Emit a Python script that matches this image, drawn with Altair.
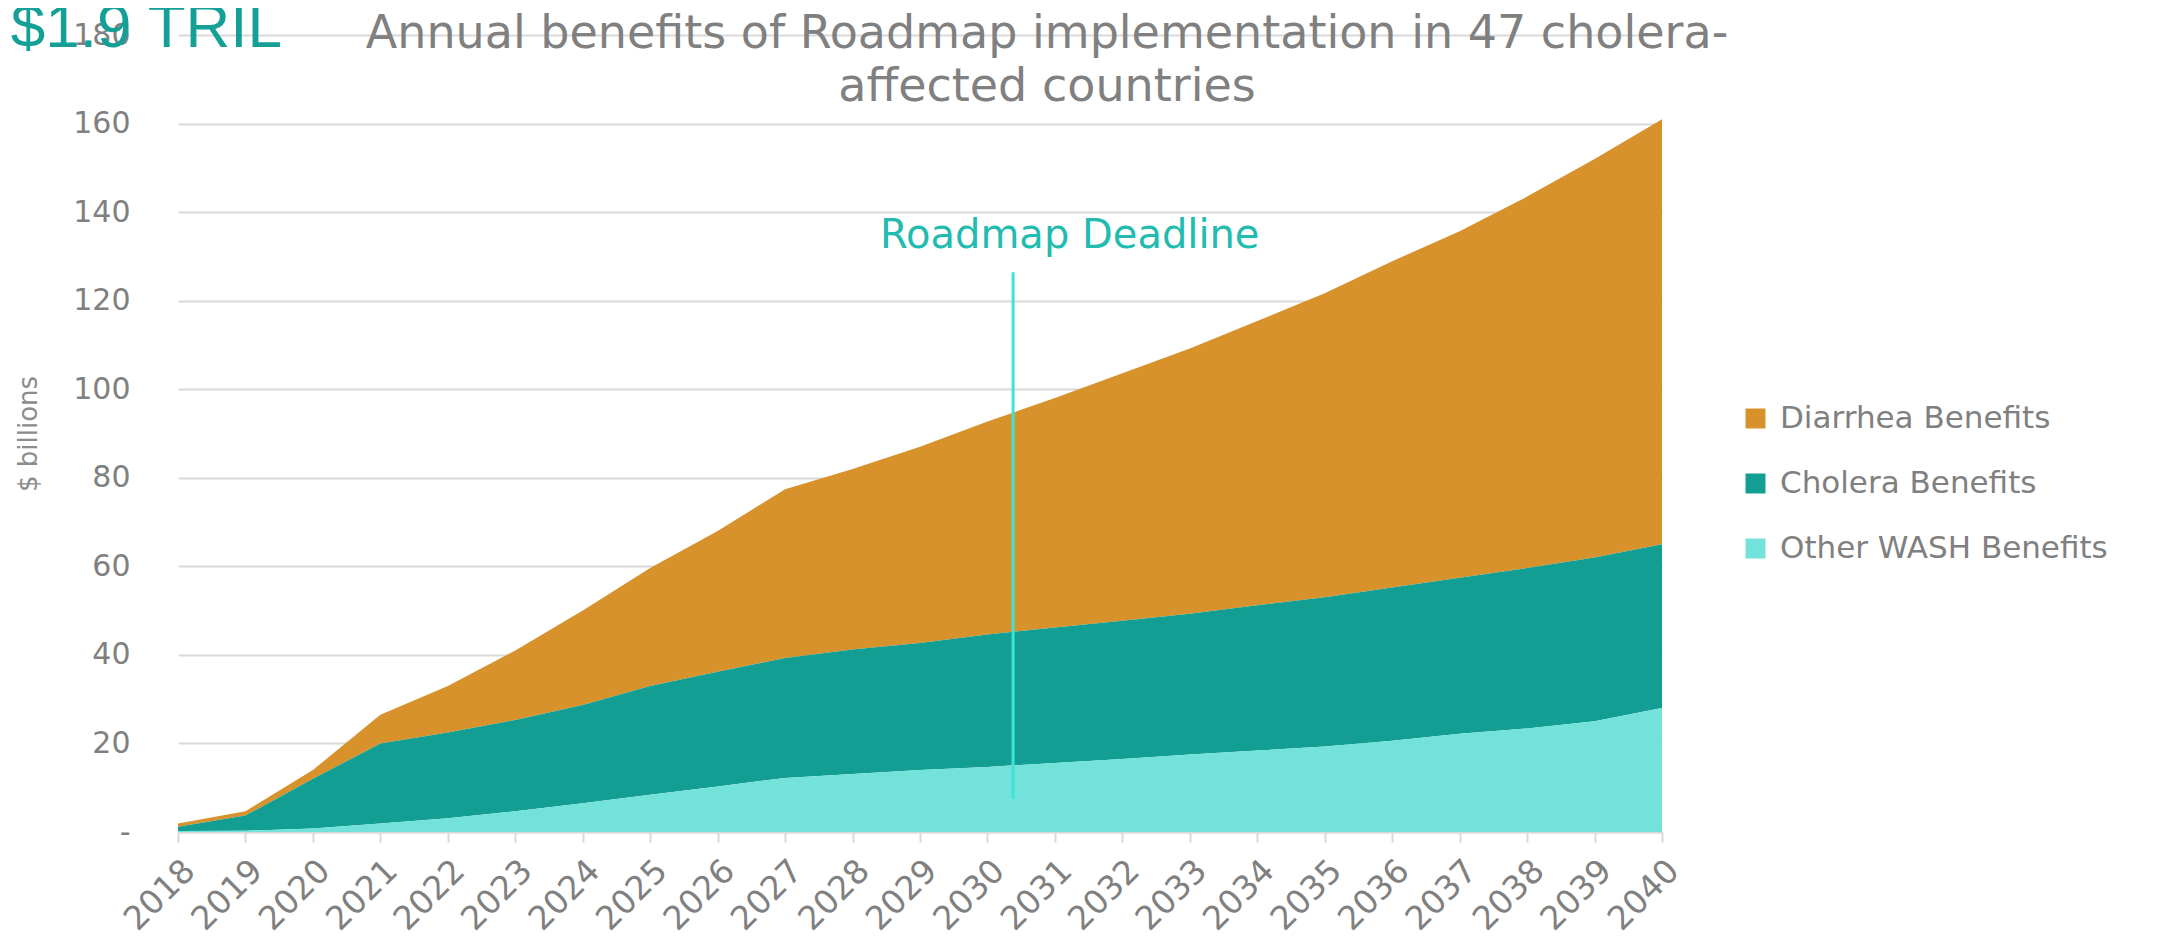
import altair as alt
import pandas as pd

years = list(range(2018, 2041))
other_wash = [0.2, 0.3, 0.8, 1.9, 3.1, 4.7, 6.5, 8.4, 10.3, 12.2, 13.1, 14.0, 14.7,
              15.6, 16.5, 17.5, 18.4, 19.3, 20.6, 22.2, 23.4, 25.0, 28.0]
cholera = [1.0, 3.4, 11.2, 18.1, 19.4, 20.6, 22.2, 24.6, 25.9, 27.1, 28.1, 28.7, 29.9,
           30.6, 31.2, 31.8, 32.8, 33.7, 34.6, 35.2, 36.2, 37.0, 37.0]
diarrhea = [0.7, 1.0, 2.0, 6.5, 10.5, 15.7, 21.3, 26.6, 31.8, 38.1, 40.8, 44.3, 48.1,
            51.8, 55.9, 59.9, 64.2, 68.7, 73.7, 78.3, 83.9, 90.0, 96.0]

series_names = ["Diarrhea Benefits", "Cholera Benefits", " Other WASH Benefits"]
series_colors = ["#D8922C", "#139E94", "#72E2DB"]
series_stack = [2, 1, 0]
series_values = [diarrhea, cholera, other_wash]

y_ticks = [0, 20, 40, 60, 80, 100, 120, 140, 160, 180]

title_lines = ["Annual benefits of Roadmap implementation in 47 cholera-", "affected countries"]
big_label = "$1.9 TRIL"
deadline_label = "Roadmap Deadline"
deadline_year = 2030.38
deadline_y = [7.5, 126.4]
deadline_text_pos = [2031.22, 131.8]

rows = []
for name, vals, order in zip(series_names, series_values, series_stack):
    for yr, v in zip(years, vals):
        rows.append({"year": yr, "series": name, "value": v, "stackorder": order})
df = pd.DataFrame(rows)

W, H = 1484, 797
FONT = "DejaVu Sans"
GRAY = "#808080"
GRID = "#D9D9D9"

areas = alt.Chart(df).mark_area(opacity=1).encode(
    x=alt.X("year:Q",
            scale=alt.Scale(domain=[2018, 2040], nice=False, zero=False),
            axis=alt.Axis(values=years, format="d", title=None, grid=False,
                          labelAngle=-45, labelAlign="right", labelBaseline="top",
                          labelPadding=12, labelFontSize=33, labelColor=GRAY,
                          labelFont=FONT, labelFlush=False, labelOverlap=False,
                          labelBound=False,
                          tickSize=10, tickColor=GRID, tickWidth=2,
                          domainColor=GRID, domainWidth=2)),
    y=alt.Y("value:Q", stack="zero",
            scale=alt.Scale(domain=[0, 180], nice=False),
            axis=alt.Axis(values=y_ticks, title="$ billions", grid=True,
                          gridColor=GRID, gridWidth=2, ticks=False, domain=False,
                          labelExpr="datum.value == 0 ? '-' : datum.label",
                          labelFontSize=30, labelColor=GRAY, labelFont=FONT,
                          labelPadding=48, labelFlush=False,
                          titleFontSize=26, titleColor="#8C8C8C", titleFont=FONT,
                          titleFontWeight="normal", titleX=-150, titleY=H / 2,
                          titleBaseline="middle", titleAngle=-90)),
    color=alt.Color("series:N",
                    scale=alt.Scale(domain=series_names, range=series_colors),
                    legend=alt.Legend(title=None, orient="none", legendX=1562,
                                      legendY=368, symbolType="square",
                                      symbolSize=400, symbolStrokeWidth=0,
                                      labelFontSize=31, labelColor=GRAY,
                                      labelFont=FONT, labelOffset=9,
                                      rowPadding=33, padding=0,
                                      labelLimit=600)),
    order=alt.Order("stackorder:Q", sort="ascending"),
)

rule_df = pd.DataFrame({"x": [deadline_year], "y": [deadline_y[0]], "y2": [deadline_y[1]]})
rule = alt.Chart(rule_df).mark_rule(color="#3DE3D8", strokeWidth=3).encode(
    x="x:Q", y="y:Q", y2="y2:Q")

dl_df = pd.DataFrame({"x": [deadline_text_pos[0]], "y": [deadline_text_pos[1]],
                      "t": [deadline_label]})
dl_text = alt.Chart(dl_df).mark_text(
    color="#22BBB0", fontSize=40, font=FONT, align="center", baseline="alphabetic"
).encode(x="x:Q", y="y:Q", text="t:N")

title1 = alt.Chart(pd.DataFrame({"t": [title_lines[0]]})).mark_text(
    color=GRAY, fontSize=46, font=FONT, align="center", baseline="alphabetic"
).encode(x=alt.value(869), y=alt.value(13), text="t:N")
title2 = alt.Chart(pd.DataFrame({"t": [title_lines[1]]})).mark_text(
    color=GRAY, fontSize=46, font=FONT, align="center", baseline="alphabetic"
).encode(x=alt.value(869), y=alt.value(66), text="t:N")

big = alt.Chart(pd.DataFrame({"t": [big_label]})).mark_text(
    color="#14A096", fontSize=62, font="Liberation Sans",
    align="right", baseline="alphabetic"
).encode(x=alt.value(104), y=alt.value(12), text="t:N")

chart = alt.layer(areas, rule, dl_text, title1, title2, big).properties(
    width=W, height=H,
    autosize=alt.AutoSizeParams(type="none"),
    padding={"left": 170, "top": 27, "right": 490, "bottom": 106},
    background="white",
).configure_view(stroke=None)

chart.save("out.html", embed_options={"renderer": "svg", "actions": False})
